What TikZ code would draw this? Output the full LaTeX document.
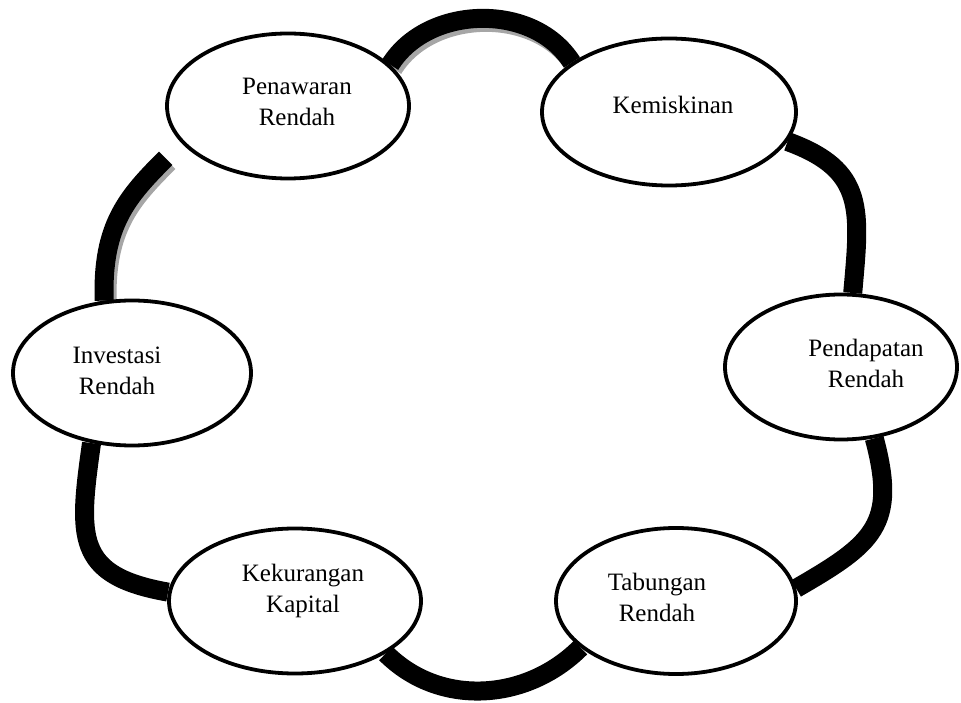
\documentclass[tikz,border=0pt]{standalone}
\usepackage{fontspec}
\setmainfont{Liberation Serif}
\usetikzlibrary{shapes.geometric,backgrounds}
\begin{document}
\begin{tikzpicture}[x=1pt,y=1pt,
  oval/.style={ellipse,draw=black,line width=3.8pt,fill=white,inner sep=0pt},
  lbl/.style={align=center,font=\fontsize{25}{31}\selectfont,inner sep=0pt},
  band/.style={draw=black,line width=19pt,line cap=butt},
  bandshadow/.style={draw=black!35,line width=19pt,line cap=butt,transform canvas={shift={(3pt,-4pt)}}}]
\useasboundingbox (0,0) rectangle (961,702);
% ellipses
\node[oval,minimum width=242pt,minimum height=145pt] (e1) at (288,596) {};
\node[oval,minimum width=254pt,minimum height=147pt] (e2) at (669,590) {};
\node[oval,minimum width=232pt,minimum height=145pt] (e3) at (841,335) {};
\node[oval,minimum width=240pt,minimum height=146pt] (e4) at (676,101) {};
\node[oval,minimum width=252pt,minimum height=145pt] (e5) at (295,101) {};
\node[oval,minimum width=238pt,minimum height=145pt] (e6) at (132,329) {};
% texts
\node[lbl] (t1) at (297,600) {Penawaran\\Rendah};
\node[lbl] (t2) at (673,597) {Kemiskinan};
\node[lbl] (t3) at (866,339) {Pendapatan\\Rendah};
\node[lbl] (t4) at (657,105) {Tabungan\\Rendah};
\node[lbl] (t5) at (303,111) {Kekurangan\\Kapital};
\node[lbl] (t6) at (117,331) {Investasi\\Rendah};
% connectors
\begin{scope}[on background layer]
\path[bandshadow] (e1.22) to[out=58,in=122] (e2.153);
\path[band] (e1.22) to[out=58,in=122] (e2.153);
\path[band] (e2.-14) to[out=-20,in=85,looseness=1.3] (e3.81);
\path[band] (e3.-65) to[out=-75,in=30,looseness=1.35] (e4.6);
\path[band] (e4.206) to[out=-135,in=-45] (e5.-30);
\path[band] (e5.176) to[out=170,in=262,looseness=1.45] (e6.240);
\path[bandshadow,shorten >=22pt] (e6.111) to[out=92,in=225,looseness=1.1] (e1.199);
\path[band,shorten >=22pt] (e6.111) to[out=92,in=225,looseness=1.1] (e1.199);
\end{scope}
\end{tikzpicture}
\end{document}
